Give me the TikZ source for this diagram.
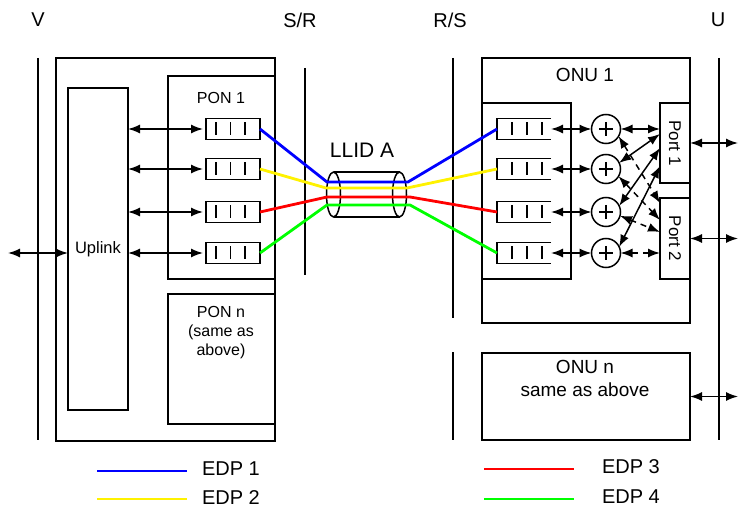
\documentclass[tikz,border=0pt]{standalone}
\usepackage{fontspec}
\setmainfont{Liberation Sans}
\usetikzlibrary{arrows.meta,calc}
\newcommand{\fsz}[2]{\fontsize{#1}{#2}\selectfont}
\begin{document}
\begin{tikzpicture}[x=1pt,y=-1pt,
  >={Latex[length=12pt,width=9pt]},
  every node/.style={inner sep=0pt,outer sep=0pt},
  ln/.style={line width=1.5pt},
  iface/.style={line width=1.6pt},
  box/.style={draw,line width=1.5pt,rectangle,anchor=north west},
  olq/.style={draw,line width=1.5pt,rectangle,minimum width=54,minimum height=21},
  onq/.style={rectangle,minimum width=54,minimum height=21},
  adder/.style={draw,circle,line width=1.5pt,minimum size=29},
  dbl/.style={<->,line width=1.5pt},
  dsh/.style={<->,line width=1.5pt,dash pattern=on 6pt off 5pt},
  edp/.style={line width=2.8pt,line join=round},
  lab/.style={font=\fsz{20}{24}},
]
\useasboundingbox (0,0) rectangle (738,510);

% interface labels
\node[lab] (lv) at (38,20) {V};
\node[lab] (lsr) at (300,20) {S/R};
\node[lab] (lrs) at (450,20) {R/S};
\node[lab] (lu) at (718,20) {U};

% interface lines
\draw[iface] (38,58) -- (38,440);
\draw[iface] (305,68) -- (305,275);
\draw[iface] (453,58) -- (453,318);
\draw[iface] (453,352) -- (453,440);
\draw[iface] (719,58) -- (719,440);

% OLT
\node[box,minimum width=219,minimum height=383] (olt) at (56,58) {};
\node[box,minimum width=60,minimum height=322,font=\fsz{16.5}{20}] (uplink) at (68,88) {Uplink};
\node[box,minimum width=107,minimum height=203] (pon1) at (168,76) {};
\node[font=\fsz{16}{19}] (pon1t) at (221,98) {PON 1};
\node[box,minimum width=107,minimum height=130] (ponn) at (168,294) {};
\node[font=\fsz{16}{19},align=center,anchor=north] (ponnt) at (221,306) {PON n\\(same as\\above)};

\foreach \i/\y in {1/129,2/169,3/212,4/253}{
  \node[olq] (q\i) at (233,\y) {};
  \foreach \dx in {-17,-2.5,12}
    \draw[ln] ($(q\i.center)+(\dx,-6.5)$) -- ++(0,13);
  \draw[dbl,shorten >=3pt] (uplink.east |- q\i.west) -- (q\i.west);
}
\coordinate (ext) at (8,253);
\draw[dbl] (ext) -- (ext -| uplink.west);

% ONU 1
\node[box,minimum width=208,minimum height=265] (onu1) at (482,58) {};
\node[font=\fsz{19}{22}] (onu1t) at (585,75) {ONU 1};
\node[box,minimum width=89,minimum height=176] (onuin) at (482,103) {};
\foreach \i/\y in {1/129,2/169,3/212,4/253}{
  \node[onq] (r\i) at (524,\y) {};
  \draw[ln] (r\i.north east) -- (r\i.north west) -- (r\i.south west) -- (r\i.south east);
  \foreach \dx in {-12,3,18}
    \draw[ln] ($(r\i.center)+(\dx,-6.5)$) -- ++(0,13);
  \node[adder] (c\i) at (606,\y) {};
  \draw[ln] ($(c\i.center)+(-7,0)$) -- ($(c\i.center)+(7,0)$)
            ($(c\i.center)+(0,-7)$) -- ($(c\i.center)+(0,7)$);
  \draw[dbl] (r\i.east) -- (c\i.west);
}
\node[box,minimum width=30,minimum height=80] (port1) at (660,103) {};
\node[font=\fsz{17}{20},rotate=-90] (port1t) at (port1.center) {Port 1};
\node[box,minimum width=30,minimum height=81] (port2) at (660,198) {};
\node[font=\fsz{17}{20},rotate=-90] (port2t) at (port2.center) {Port 2};

\coordinate (p1b) at (660,134);
\coordinate (p1c) at (660,148);
\coordinate (p1d) at (660,166);
\coordinate (p2a) at (660,203);
\coordinate (p2b) at (660,220);
\coordinate (p2c) at (660,232);
\draw[dbl] (c1.east) -- (c1.east -| port1.west);
\draw[dbl] (c2.25) -- (p1b);
\draw[dbl] (c3.25) -- (p1c);
\draw[dbl] (c4.25) -- (p1d);
\draw[dsh] (c1.-30) -- (p2a);
\draw[dsh] (c2.-30) -- (p2b);
\draw[dsh] (c3.-15) -- (p2c);
\draw[dsh] (c4.east) -- (c4.east -| port2.west);

\coordinate (u1) at (738,143);
\coordinate (u2) at (738,238.5);
\draw[dbl] (port1.east) -- (u1);
\draw[dbl] (port2.east) -- (u2);

% ONU n
\node[box,minimum width=208,minimum height=87] (onun) at (482,353) {};
\node[font=\fsz{19}{23},align=center,anchor=north] (onunt) at (585,360) {ONU n\\same as above};
\coordinate (u3) at (738,396.5);
\draw[dbl] (onun.east) -- (u3);

% cable
\draw[ln] (333.5,194.5) ellipse [x radius=7pt,y radius=22.5pt];
\draw[ln] (399.5,194.5) ellipse [x radius=7pt,y radius=22.5pt];
\draw[ln] (333.5,172) -- (399.5,172) (333.5,217) -- (399.5,217);
\node[font=\fsz{21}{24}] (llid) at (362,150) {LLID A};

% EDP paths
\coordinate (bl1) at (327,182); \coordinate (br1) at (408,182);
\coordinate (bl2) at (326,188); \coordinate (br2) at (407,188);
\coordinate (bl3) at (327,197); \coordinate (br3) at (410,197);
\coordinate (bl4) at (327,205); \coordinate (br4) at (410,205);
\draw[edp,blue] (q1.east) -- (bl1) -- (br1) -- (r1.west);
\draw[edp,yellow] (q2.east) -- (bl2) -- (br2) -- (r2.west);
\draw[edp,red] (q3.east) -- (bl3) -- (br3) -- (r3.west);
\draw[edp,green] (q4.east) -- (bl4) -- (br4) -- (r4.west);

% legend
\draw[edp,blue] (97,471) -- (187,471);
\draw[edp,yellow] (97,499) -- (187,499);
\draw[edp,red] (484,469) -- (574,469);
\draw[edp,green] (484,499) -- (574,499);
\node[lab,anchor=west] (e1) at (202,469) {EDP 1};
\node[lab,anchor=west] (e2) at (202,498) {EDP 2};
\node[lab,anchor=west] (e3) at (602,467) {EDP 3};
\node[lab,anchor=west] (e4) at (602,497) {EDP 4};
\end{tikzpicture}
\end{document}
